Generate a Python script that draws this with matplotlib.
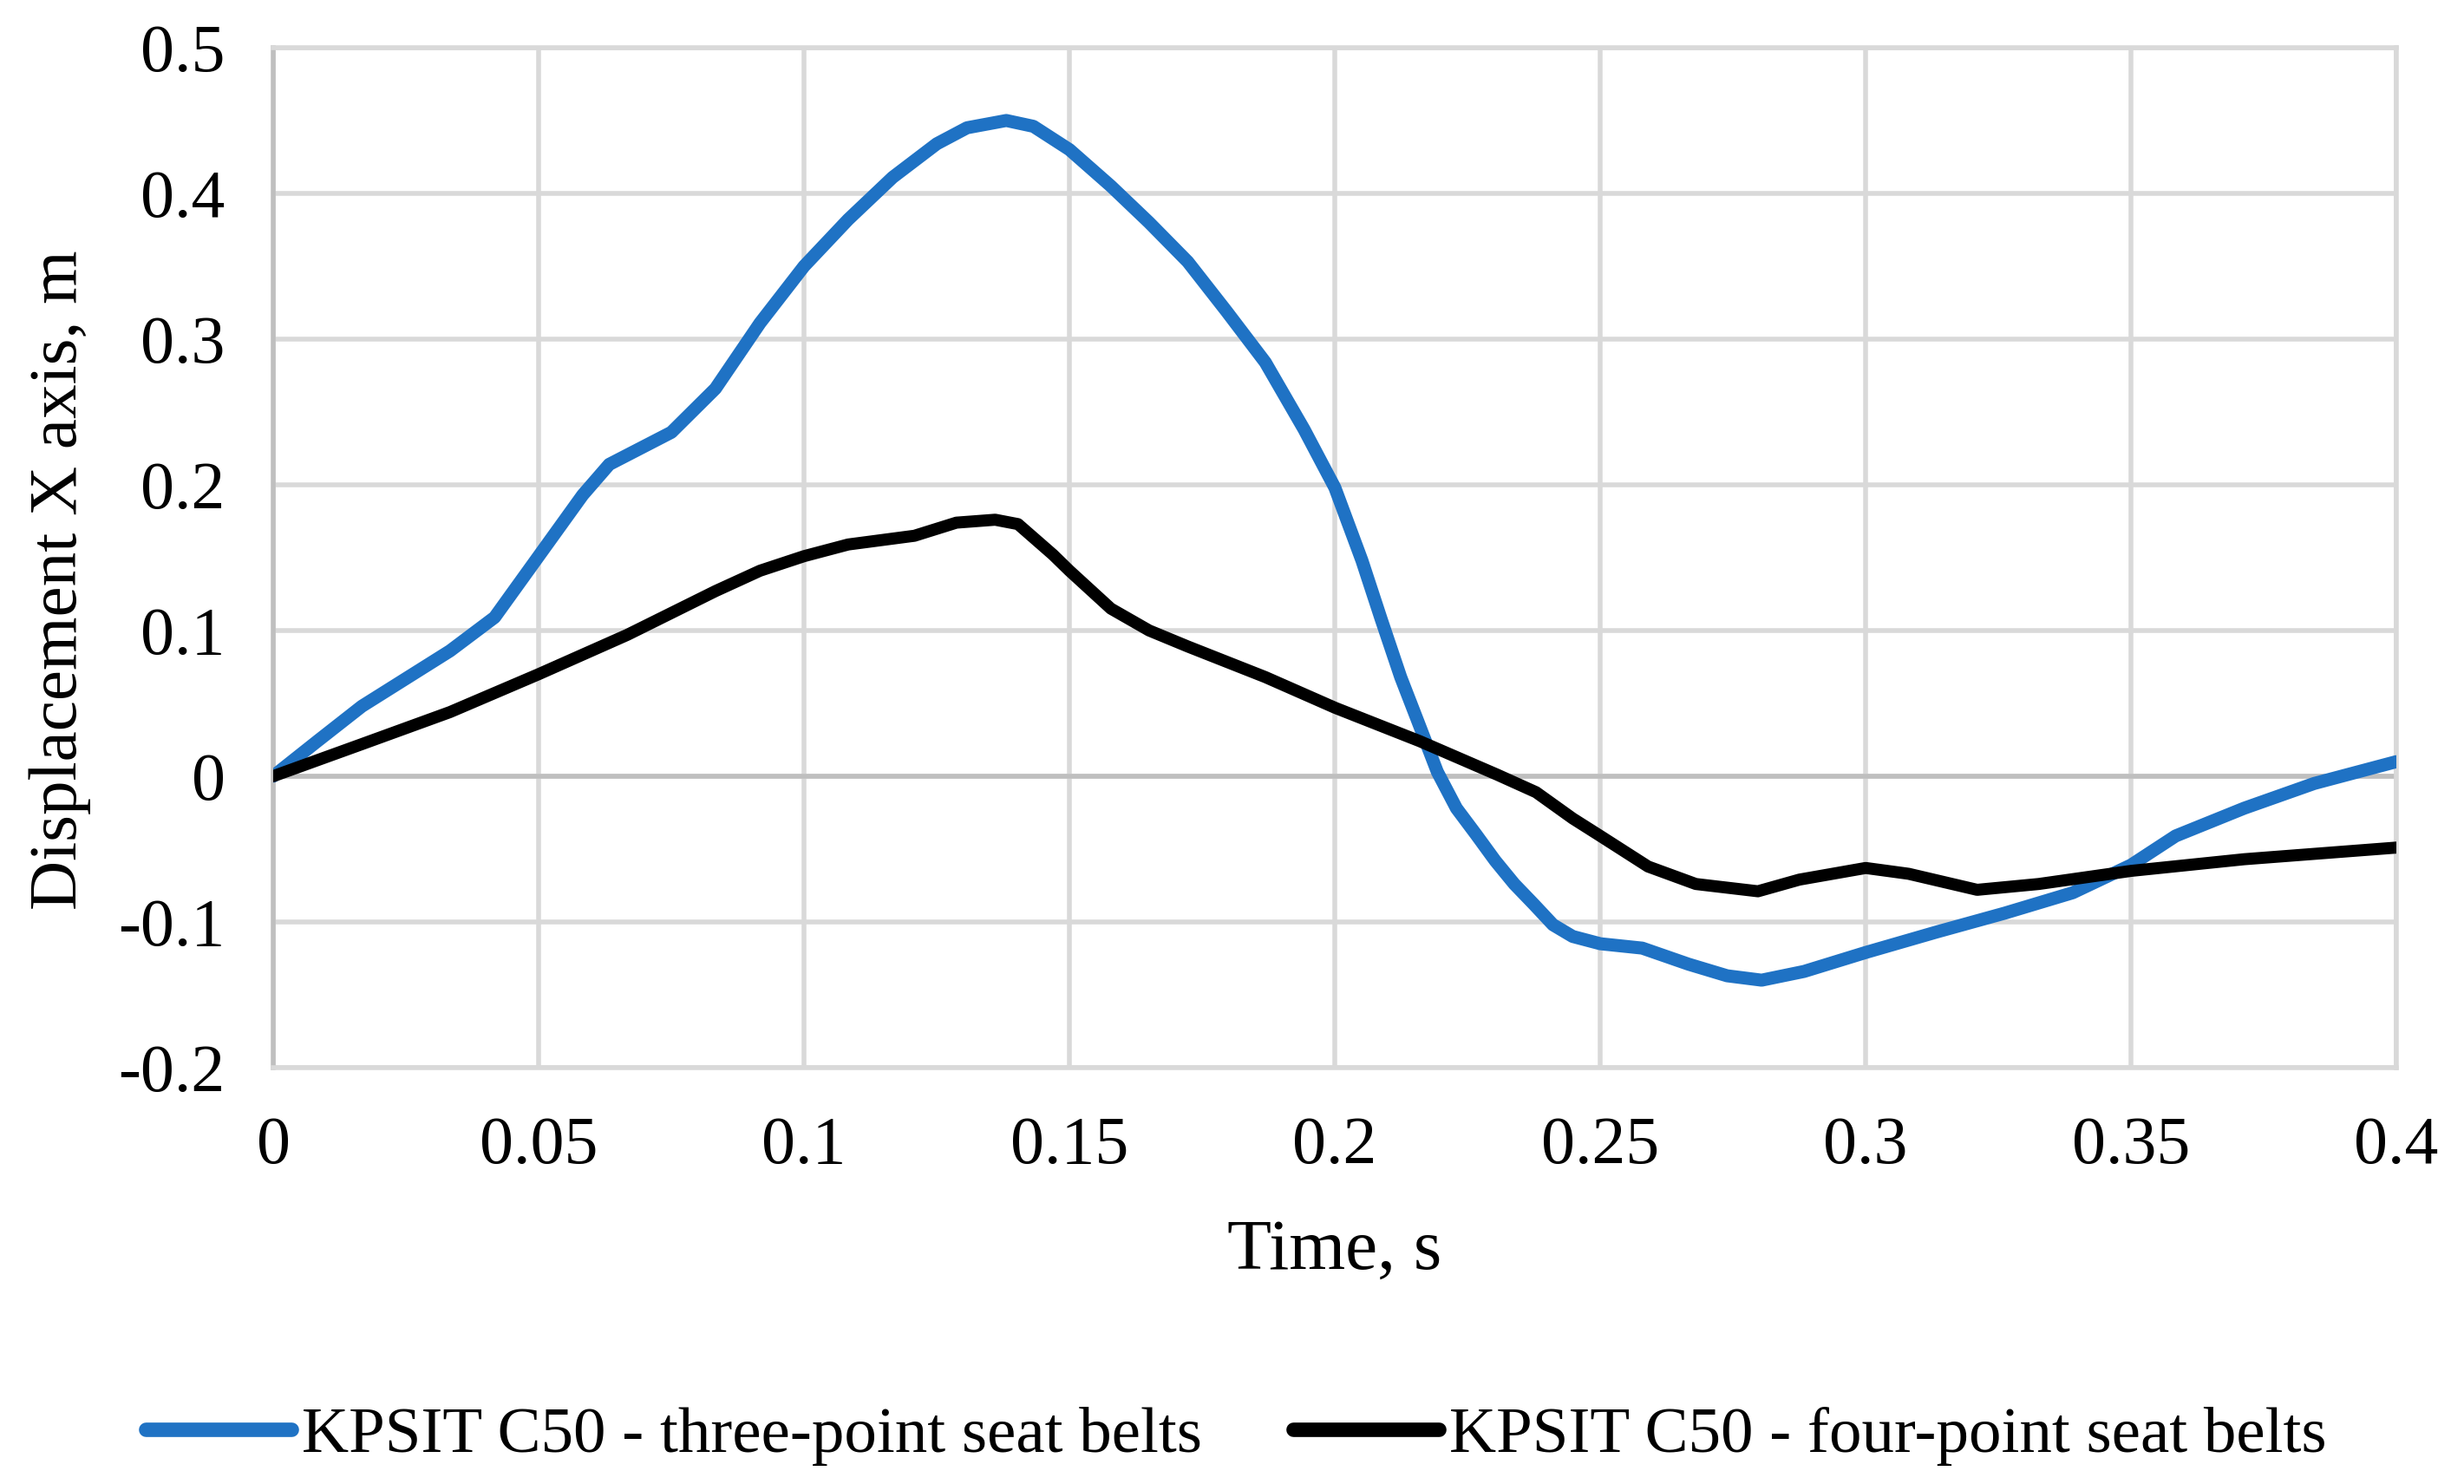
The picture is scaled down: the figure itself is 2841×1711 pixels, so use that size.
import matplotlib
matplotlib.use("Agg")
import matplotlib.pyplot as plt

# time, s  /  displacement, m
t_three = [0, 0.0083, 0.0167, 0.0333, 0.0417, 0.05, 0.0583, 0.0633, 0.075, 0.0833,
           0.0917, 0.1, 0.1083, 0.1167, 0.125, 0.1307, 0.1381, 0.1432, 0.15, 0.1578,
           0.165, 0.1723, 0.1796, 0.1869, 0.1942, 0.2, 0.2051, 0.2087, 0.2124, 0.2157,
           0.2193, 0.2229, 0.2266, 0.2302, 0.2338, 0.2375, 0.2411, 0.2448, 0.25, 0.2579,
           0.2666, 0.2739, 0.2804, 0.2884, 0.3, 0.3133, 0.3262, 0.339, 0.35, 0.3584,
           0.3713, 0.3845, 0.4]
three_point = [0, 0.024, 0.048, 0.086, 0.109, 0.151, 0.193, 0.214, 0.236, 0.266,
               0.311, 0.35, 0.382, 0.411, 0.434, 0.445, 0.45, 0.446, 0.43, 0.405,
               0.38, 0.353, 0.319, 0.284, 0.238, 0.198, 0.148, 0.108, 0.068, 0.037,
               0.003, -0.022, -0.04, -0.058, -0.074, -0.088, -0.102, -0.11, -0.115, -0.118,
               -0.129, -0.137, -0.14, -0.134, -0.121, -0.107, -0.094, -0.08, -0.061, -0.041,
               -0.022, -0.005, 0.01]

t_four = [0, 0.0167, 0.0333, 0.05, 0.0667, 0.0833, 0.0917, 0.1, 0.1083, 0.1208,
          0.1287, 0.136, 0.1403, 0.1469, 0.15, 0.1578, 0.165, 0.1723, 0.1869, 0.2,
          0.216, 0.2306, 0.2379, 0.2448, 0.25, 0.259, 0.268, 0.2797, 0.2875, 0.3,
          0.3081, 0.321, 0.3326, 0.35, 0.3713, 0.4]
four_point = [0, 0.022, 0.044, 0.07, 0.097, 0.127, 0.141, 0.151, 0.159, 0.165,
              0.174, 0.176, 0.173, 0.152, 0.141, 0.115, 0.1, 0.089, 0.068, 0.047,
              0.024, 0.001, -0.011, -0.029, -0.041, -0.062, -0.074, -0.079, -0.071, -0.063,
              -0.067, -0.078, -0.074, -0.065, -0.057, -0.049]

labels = ["KPSIT C50 - three-point seat belts", "KPSIT C50 - four-point seat belts"]
x_ticks = [0, 0.05, 0.1, 0.15, 0.2, 0.25, 0.3, 0.35, 0.4]
x_tick_labels = ["0", "0.05", "0.1", "0.15", "0.2", "0.25", "0.3", "0.35", "0.4"]
y_ticks = [-0.2, -0.1, 0, 0.1, 0.2, 0.3, 0.4, 0.5]
y_tick_labels = ["-0.2", "-0.1", "0", "0.1", "0.2", "0.3", "0.4", "0.5"]

plt.rcParams["font.family"] = ["Liberation Serif", "DejaVu Serif"]

fig = plt.figure(figsize=(14.205, 8.555), dpi=200)
ax = fig.add_axes([0.1109, 0.2806, 0.8617, 0.6873])

ax.plot(t_three, three_point, color="#1f72c4", lw=5.4, solid_capstyle="round",
        solid_joinstyle="round", label=labels[0], zorder=3)
ax.plot(t_four, four_point, color="black", lw=5.0, solid_capstyle="round",
        solid_joinstyle="round", label=labels[1], zorder=3)

ax.set_xlim(0, 0.4)
ax.set_ylim(-0.2, 0.5)
ax.set_xticks(x_ticks)
ax.set_xticklabels(x_tick_labels)
ax.set_yticks(y_ticks)
ax.set_yticklabels(y_tick_labels)
ax.tick_params(length=0, labelsize=28)
ax.tick_params(axis="y", pad=20)
ax.tick_params(axis="x", pad=20)

ax.grid(True, color="#d9d9d9", lw=2)
ax.set_axisbelow(True)
ax.axhline(0, color="#bfbfbf", lw=2, zorder=2)
for side in ["top", "right", "bottom"]:
    ax.spines[side].set_color("#d9d9d9")
    ax.spines[side].set_linewidth(2)
ax.spines["left"].set_color("#bfbfbf")
ax.spines["left"].set_linewidth(2)

ax.set_xlabel("Time, s", fontsize=30, va="center")
ax.xaxis.set_label_coords(0.5, -0.18)
ax.set_ylabel("Displacement X axis, m", fontsize=28.5, va="center")
ax.yaxis.set_label_coords(-0.1005, 0.478)

leg = fig.legend(loc="center", bbox_to_anchor=(0.5016, 0.032), ncol=2, frameon=False,
                 fontsize=27, handlelength=2.25, handletextpad=0.15, columnspacing=1.4)
for line in leg.get_lines():
    line.set_linewidth(6)

fig.savefig("out.png", dpi=200)
